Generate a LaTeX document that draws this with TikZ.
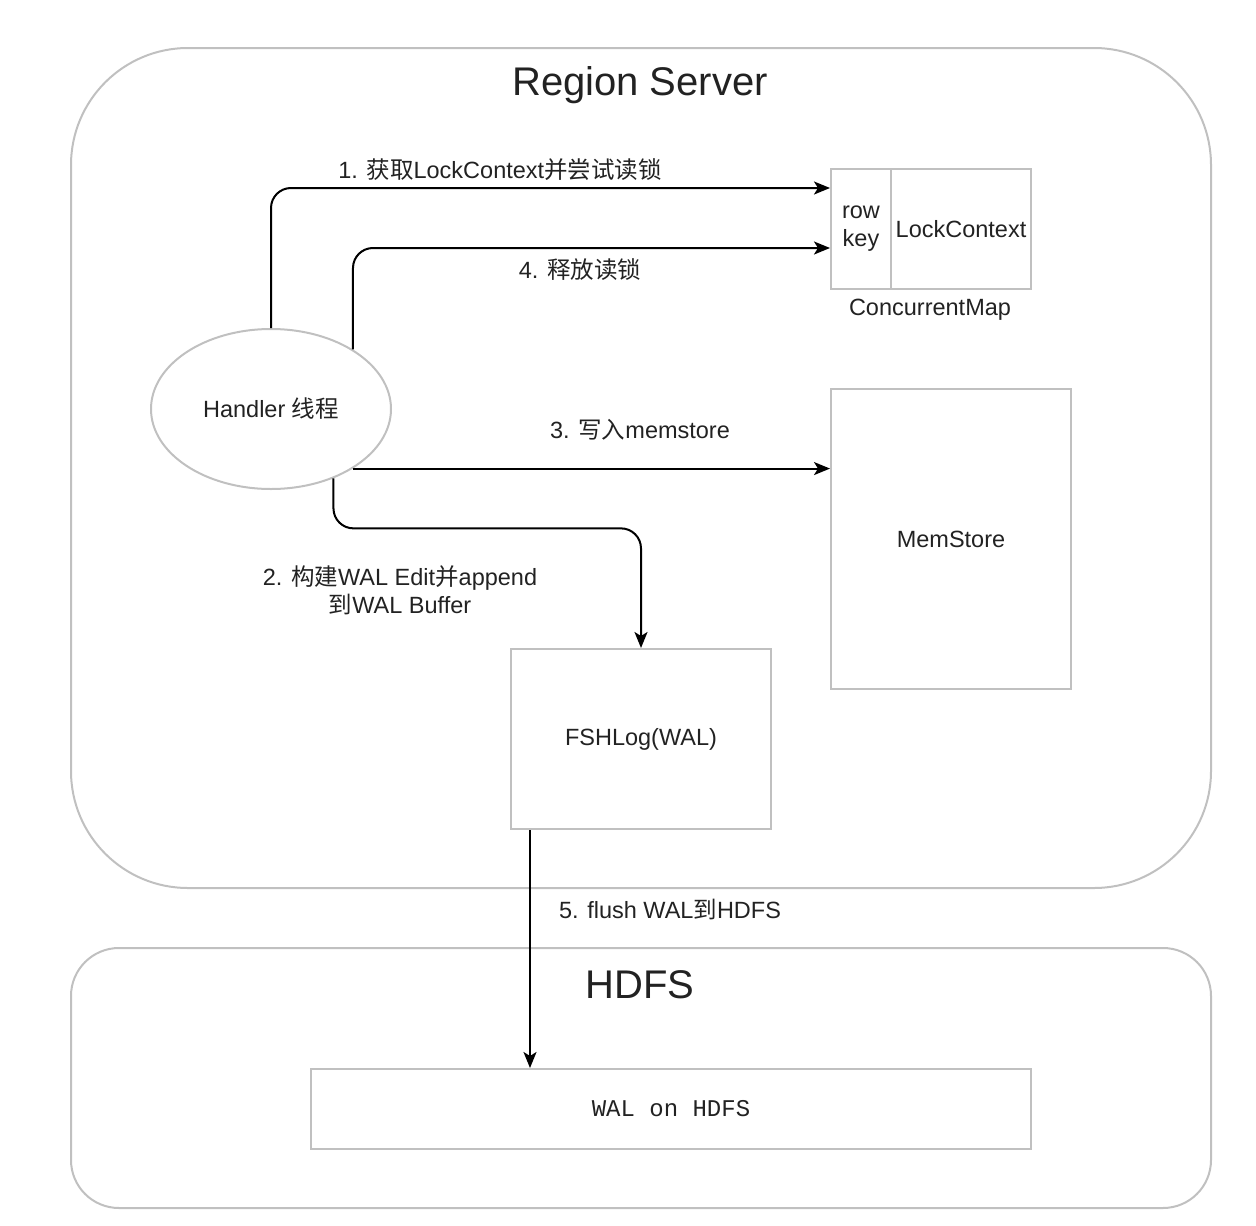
\documentclass[tikz,border=0pt]{standalone}
\usepackage{fontspec}
\setmainfont{Liberation Sans}
\setmonofont{Liberation Mono}
\newfontfamily\cjk{Noto Sans CJK SC}
\usetikzlibrary{arrows.meta,calc,shapes.geometric}
\definecolor{boxgray}{HTML}{C0C0C0}
\definecolor{txt}{HTML}{222222}
\tikzset{
  every node/.style={text=txt},
  lbl/.style={font=\fontsize{23.5}{28}\selectfont, inner sep=0pt, align=center},
  grayrect/.style={draw=boxgray, line width=2pt, inner sep=0pt, font=\fontsize{23.5}{28}\selectfont},
  flow/.style={draw=black, line width=2pt, -{Stealth[length=16pt,width=13pt,inset=4pt]}},
  bigtitle/.style={font=\fontsize{40}{48}\selectfont, inner sep=0pt}
}
\begin{document}
\begin{tikzpicture}[x=1pt,y=-1pt]
\useasboundingbox (0,0) rectangle (1256,1226);
% containers
\draw[boxgray, line width=2pt, rounded corners=117pt] (71,48) rectangle (1211,888);
\draw[boxgray, line width=2pt, rounded corners=48pt] (71,948) rectangle (1211,1208);
\node[bigtitle] (rst) at (640,85) {Region Server};
\node[bigtitle] (hdt) at (640,985) {HDFS};
% nodes
\node[grayrect, minimum width=60pt, minimum height=120pt, align=center] (rk) at (861,229) {row\\key};
\node[grayrect, minimum width=140pt, minimum height=120pt] (lc) at (961,229) {LockContext};
\node[lbl] (cm) at (930,310) {ConcurrentMap};
\node[draw=boxgray, line width=2pt, ellipse, minimum width=240pt, minimum height=160pt, inner sep=0pt, font=\fontsize{23.5}{28}\selectfont] (h) at (271,409) {Handler {\cjk 线程}};
\node[grayrect, minimum width=240pt, minimum height=300pt] (ms) at (951,539) {MemStore};
\node[grayrect, minimum width=260pt, minimum height=180pt] (fsh) at (641,739) {FSHLog(WAL)};
\node[grayrect, minimum width=720pt, minimum height=80pt, font=\fontsize{24}{28}\selectfont\ttfamily] (wal) at (671,1109) {WAL on HDFS};
% connectors
\coordinate (t1) at ($(rk.north west)+(0,20)$);
\coordinate (t4) at ($(rk.north west)+(0,80)$);
\draw[flow, rounded corners=20pt] (h.north) |- (t1);
\draw[flow, rounded corners=20pt] (h.36.5) |- (t4);
\draw[flow] (h.-36.5) -- (h.-36.5 -| ms.west);
\draw[flow, rounded corners=20pt] (h.-48.9) -- ++(0,50) -| (fsh.north);
\coordinate (f5) at ($(fsh.south west)+(20,0)$);
\draw[flow] (f5) -- (f5 |- wal.north);
% labels
\node[lbl] (l1) at (500,170) {1. {\cjk 获取}LockContext{\cjk 并尝试读锁}};
\node[lbl] (l4) at (580,270) {4. {\cjk 释放读锁}};
\node[lbl] (l3) at (640,430) {3. {\cjk 写入}memstore};
\node[lbl] (l2) at (400,590) {2. {\cjk 构建}WAL Edit{\cjk 并}append\\{\cjk 到}WAL Buffer};
\node[lbl] (l5) at (670,910) {5. flush WAL{\cjk 到}HDFS};
\end{tikzpicture}
\end{document}
